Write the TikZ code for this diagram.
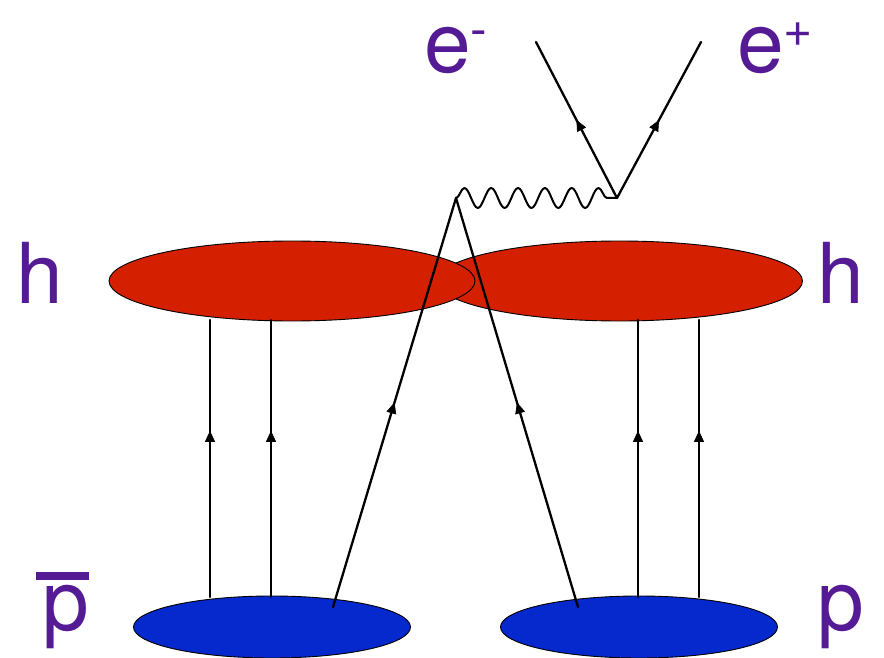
\documentclass[tikz,border=0pt]{standalone}
\usepackage{fontspec}
\setmainfont{TeX Gyre Heros}
\usetikzlibrary{shapes.geometric,decorations.pathmorphing,decorations.markings,arrows.meta}
\definecolor{labelpurple}{HTML}{541B94}
\definecolor{hadronred}{HTML}{D42000}
\definecolor{protonblue}{HTML}{0529CC}
\tikzset{
  blob/.style={ellipse,draw=black,line width=0.9pt,inner sep=0pt,minimum width=#1},
  redblob/.style={blob=366pt,fill=hadronred,minimum height=80pt},
  blueblob/.style={blob=277pt,fill=protonblue,minimum height=62pt},
  lbl/.style={text=labelpurple,anchor=base west,inner sep=0pt,font=\fontsize{84}{84}\selectfont},
  fermion/.style={line width=2.3pt,black,line cap=round,postaction={decorate},
    decoration={markings,mark=at position #1 with {\arrow[line width=0.6pt]{Triangle[length=11pt,width=10pt]}}}},
  boson/.style={line width=2pt,black,line join=round,decorate,
    decoration={snake,segment length=26.83pt,amplitude=10pt,pre length=0pt,post length=0pt}},
}
\begin{document}
\begin{tikzpicture}[x=1pt,y=-1pt]
\useasboundingbox (0,0) rectangle (884,658);
\clip (0,0) rectangle (884,658);
% blobs
\node[redblob] (hr) at (619.5,281) {};
\node[redblob] (hl) at (292,281) {};
\node[blueblob] (bl) at (272,627) {};
\node[blueblob] (br) at (639,627) {};
% vertices and free ends
\coordinate (qv) at (456,198);
\coordinate (ev) at (617,198);
\coordinate (em) at (536,42);
\coordinate (ep) at (701,42);
\coordinate (qa) at (333,607);
\coordinate (qb) at (578,607);
\coordinate (a1) at (210,597); \coordinate (a1t) at (210,320);
\coordinate (a2) at (271,597); \coordinate (a2t) at (271,320);
\coordinate (b1) at (638,597); \coordinate (b1t) at (638,320);
\coordinate (b2) at (699,597); \coordinate (b2t) at (699,320);
% lines
\draw[fermion=0.6] (a1) -- (a1t);
\draw[fermion=0.6] (a2) -- (a2t);
\draw[fermion=0.6] (b1) -- (b1t);
\draw[fermion=0.6] (b2) -- (b2t);
\draw[fermion=0.5] (qa) -- (qv);
\draw[fermion=0.5] (qb) -- (qv);
\draw[fermion=0.5] (ev) -- (em);
\draw[fermion=0.5] (ev) -- (ep);
\draw[boson] (qv) -- (ev);
% labels
\node[lbl] (hL) at (16,303) {h};
\node[lbl] (hR) at (817,303) {h};
\node[lbl] (el) at (424,73) {e\raisebox{26pt}{\fontsize{50}{50}\selectfont -}};
\node[lbl] (po) at (737,73) {e\raisebox{26pt}{\fontsize{50}{50}\selectfont +}};
\node[lbl] (pb) at (42,630) {p};
\node[lbl] (pp) at (817,630) {p};
\fill[labelpurple] (36,572) rectangle (89,580);
\end{tikzpicture}
\end{document}
